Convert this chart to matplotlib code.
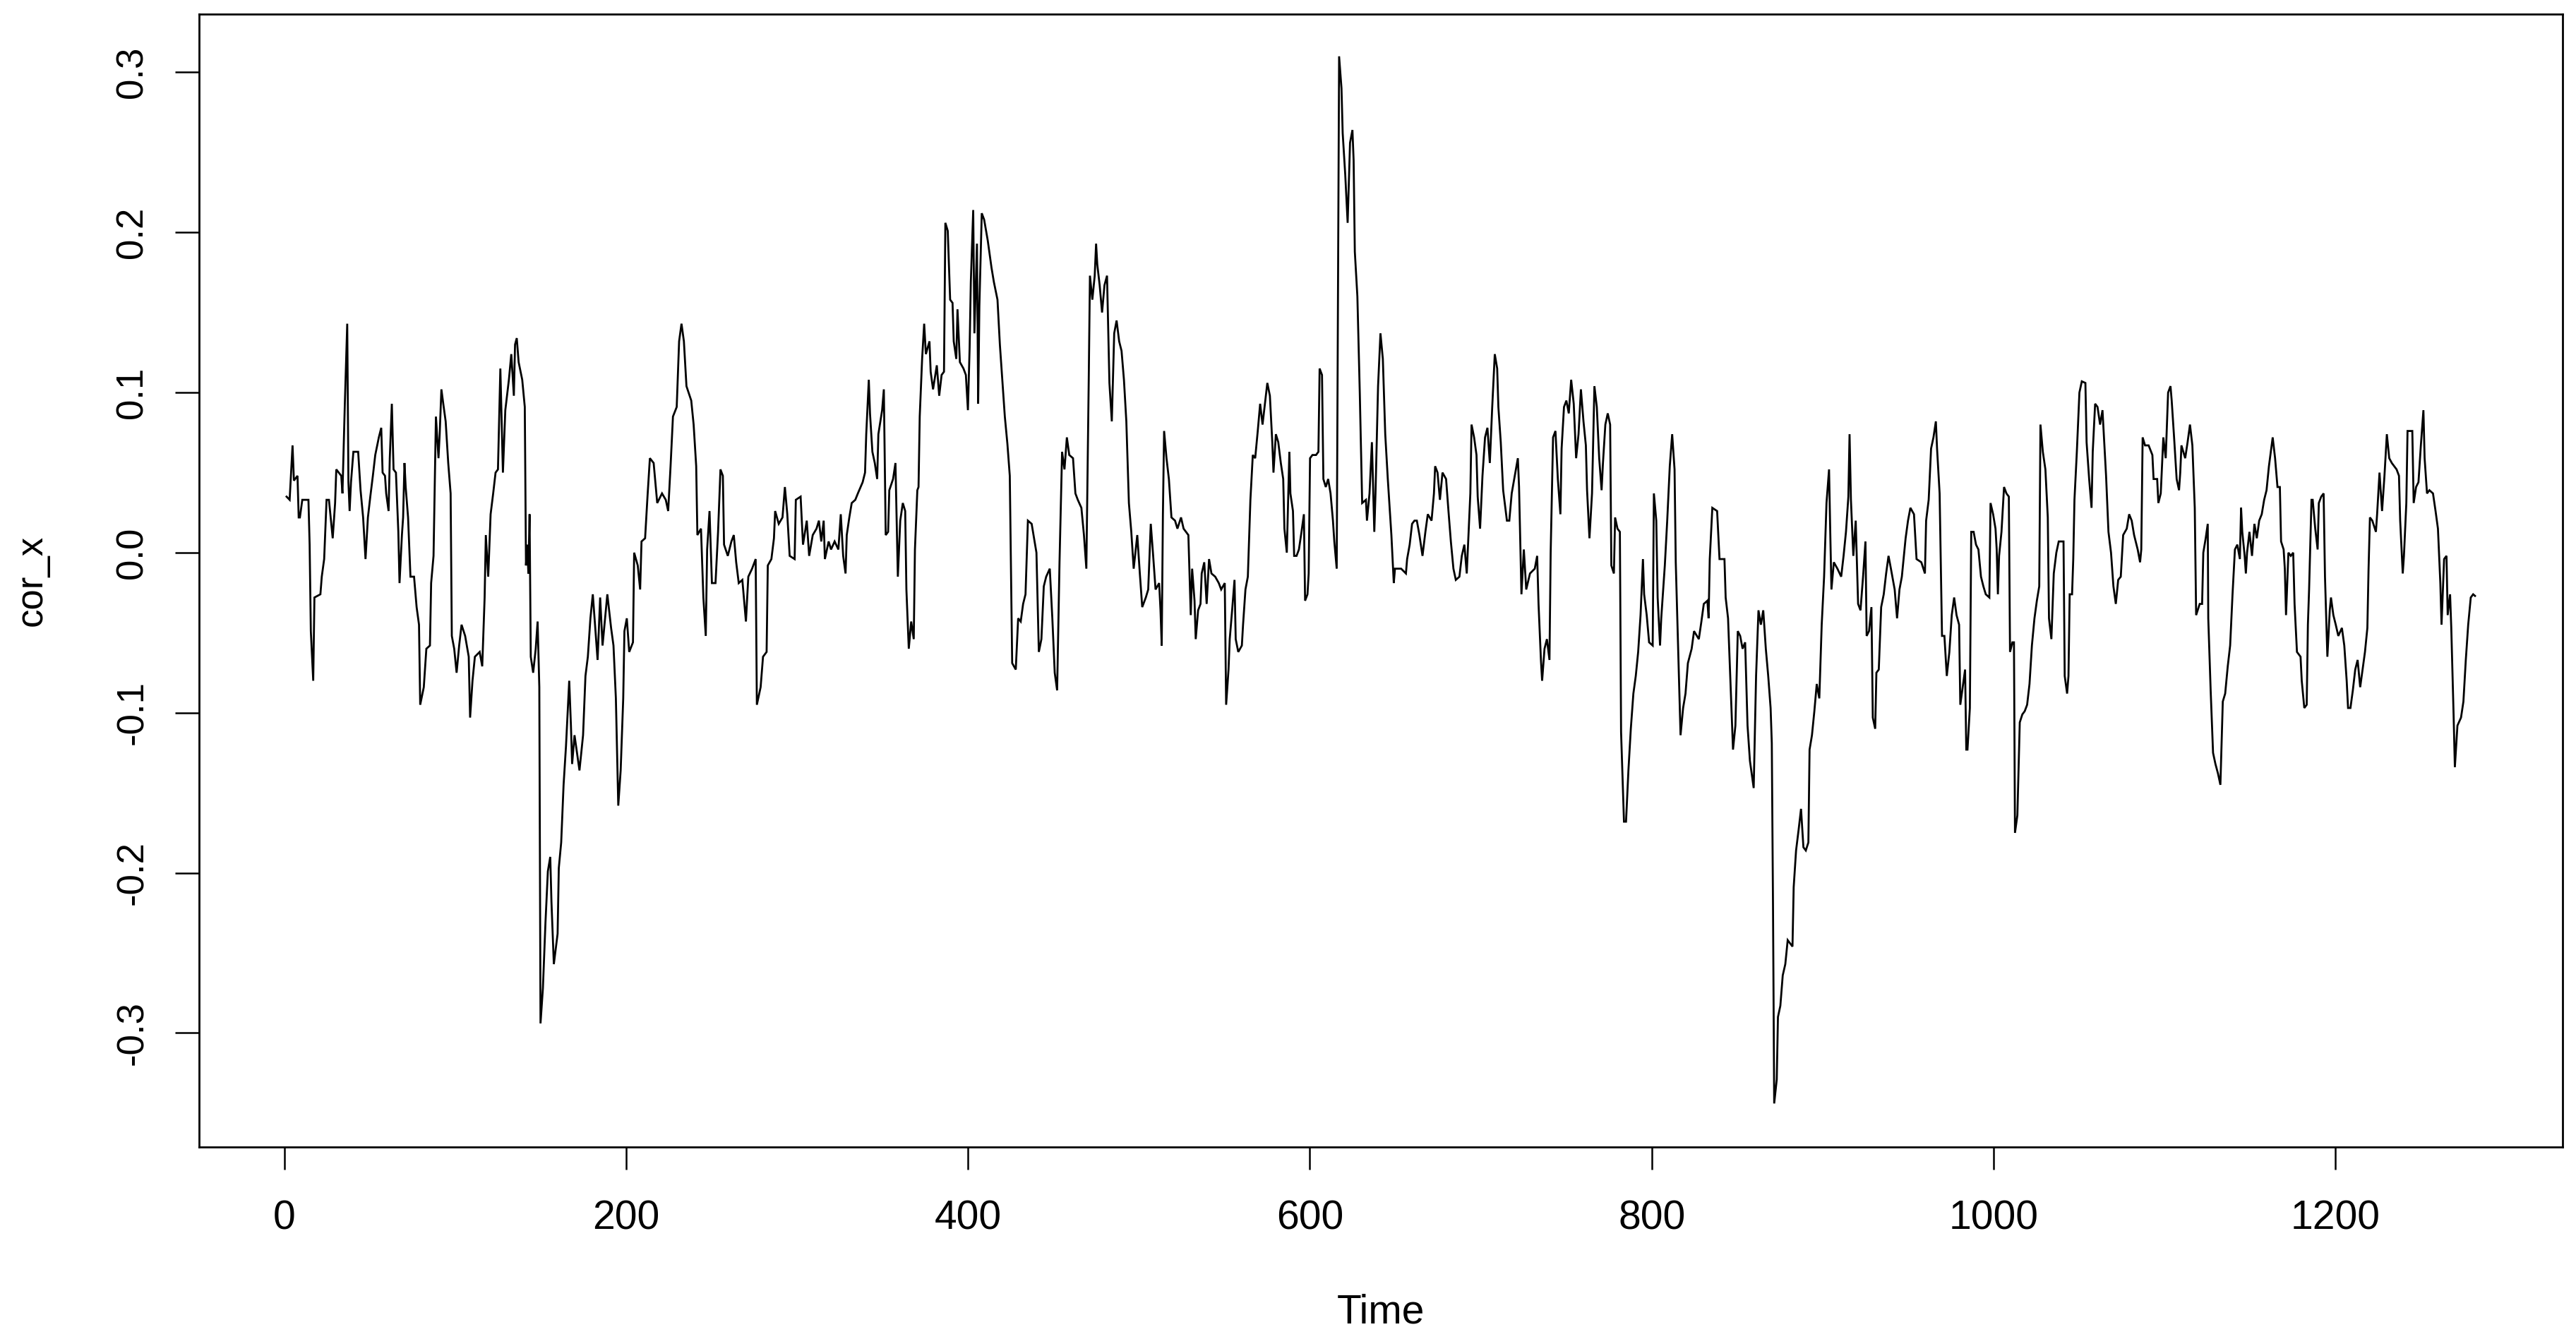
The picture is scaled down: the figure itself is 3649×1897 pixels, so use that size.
import matplotlib
matplotlib.use("Agg")
import matplotlib.pyplot as plt
from matplotlib import font_manager
import numpy as np

# ---- data (Time, cor_x) ----
time = [
 1.2, 3.0, 4.7, 5.5, 7.6, 8.3, 9.0, 10.4, 14.0, 14.7, 15.4, 16.8, 17.5, 21.0, 21.8, 23.2, 24.6, 26.0, 28.2, 29.6,
 30.3, 33.2, 33.9, 35.3, 36.7, 37.4, 38.1, 38.9, 40.3, 43.1, 44.5, 46.0, 47.4, 48.8, 50.2, 51.7, 53.1, 55.2, 56.6, 57.4,
 58.8, 59.5, 60.9, 61.6, 62.8, 63.8, 65.2, 66.6, 67.3, 68.7, 69.4, 70.2, 70.9, 72.3, 73.7, 75.8, 77.3, 78.7, 79.4, 81.5,
 83.0, 85.1, 85.8, 87.2, 88.6, 90.1, 90.8, 91.8, 92.9, 94.3, 95.8, 97.2, 97.9, 99.3, 100.7, 102.2, 103.6, 105.7, 107.8, 108.6,
 110.0, 111.4, 114.2, 115.7, 117.1, 117.8, 119.2, 120.6, 122.1, 123.5, 124.9, 126.3, 127.8, 129.2, 131.3, 132.7, 134.2, 134.9, 135.9, 137.0,
 139.1, 140.6, 141.3, 142.0, 142.7, 143.4, 144.1, 145.5, 147.0, 148.1, 149.1, 149.8, 151.2, 152.7, 154.1, 155.5, 156.2, 157.6, 159.8, 160.5,
 161.9, 163.3, 164.7, 166.6, 167.6, 168.3, 169.7, 172.6, 174.7, 176.1, 177.5, 179.0, 180.4, 183.2, 184.7, 186.1, 188.9, 191.1, 192.5, 193.9,
 195.3, 196.7, 198.2, 198.9, 200.3, 201.7, 203.9, 204.6,
 206.7, 208.1, 208.9, 211.0, 212.4, 213.8, 216.0, 218.1, 220.9, 223.1, 224.5, 225.9, 227.3, 229.5, 230.9, 232.3, 233.7, 235.2, 238.0, 239.4,
 240.9, 241.6, 243.7, 245.1, 246.5, 247.3, 248.7, 250.1, 252.2, 253.7, 255.1, 256.5, 257.2, 259.4, 261.5, 262.9, 264.3, 265.8, 267.9, 270.0,
 271.4, 273.6, 275.7, 276.4, 278.6, 280.0, 282.1, 282.8, 284.9, 286.4, 287.1, 289.2, 291.4, 292.8, 294.2, 295.6, 298.5, 299.2, 302.0, 303.4,
 305.6, 307.0, 309.1, 311.3, 312.7, 314.1, 315.5, 316.2, 318.4, 319.8, 321.9, 324.1, 325.5, 326.9, 328.3, 329.0, 330.5, 331.9, 334.0, 335.5,
 338.3, 339.7, 340.4, 341.9, 342.6, 344.0, 345.4, 346.8, 347.5, 349.7, 350.7, 351.8, 353.2, 353.9, 356.1, 357.5, 358.2, 358.9, 360.3, 361.8,
 363.2, 363.9, 365.3, 366.7, 368.2, 368.9, 370.3, 371.0, 371.7, 373.1, 374.3, 375.3, 377.4, 378.1, 379.5, 381.7, 383.1, 384.5, 385.9, 386.7,
 388.1, 389.5, 390.9, 391.6, 393.1, 393.8, 395.2, 397.3, 398.7, 399.9, 400.9, 401.6, 403.0, 403.7, 405.2, 405.9, 406.6, 408.0, 409.4, 411.5,
 413.7, 415.1, 417.2, 418.6,
 421.5, 423.0, 424.4, 425.8, 427.9, 429.3, 430.8, 432.2, 433.6, 435.0, 437.2, 438.6, 440.0, 441.4, 442.9, 444.3, 445.7, 447.8, 449.3, 450.7,
 452.1, 453.5, 455.0, 456.4, 457.8, 459.2, 461.4, 462.8, 464.2, 466.3, 467.8, 469.2, 470.6, 471.3, 472.7, 474.1, 474.9, 475.6, 477.0, 478.4,
 479.8, 481.3, 482.7, 484.1, 485.5, 486.9, 488.4, 489.8, 491.2, 492.6, 494.1, 495.5, 496.9, 499.0, 500.5, 501.9, 504.0, 505.4, 506.9, 508.3,
 509.7, 511.8, 512.6, 513.3, 514.0, 514.7, 516.1, 517.5, 519.0, 521.1, 522.5, 524.6, 526.1, 528.9, 530.3, 531.1, 532.5, 533.2, 534.6, 536.0,
 536.7, 538.2, 539.6, 541.0, 542.4, 544.6, 546.7, 548.1, 550.2, 551.0, 552.4, 553.1, 554.5, 555.9, 556.6, 558.1, 560.2, 560.9, 562.3, 563.7,
 565.2, 566.6, 568.0, 569.5, 570.9, 572.3, 573.7, 575.1, 576.6, 578.0, 578.7, 580.1, 581.5, 583.0, 584.4, 585.1, 586.5, 588.0, 588.6, 590.1,
 590.8, 592.2, 593.6, 595.1, 596.5, 597.2, 598.6, 599.3, 600.1, 601.5, 603.6, 605.0, 605.7, 607.1, 607.9, 609.3, 610.7, 612.1, 613.5, 614.3,
 615.7, 616.4, 617.1, 618.5, 619.2, 620.7, 622.1, 623.5, 624.9, 625.6, 626.3, 627.8, 629.2, 630.6, 632.8, 633.4, 634.9, 636.3, 637.7, 638.4,
 639.9, 641.3, 642.7,
 644.1, 645.6, 647.7, 649.1, 649.8, 653.4, 656.2, 656.9, 658.4, 659.8, 661.2, 662.6, 664.1, 665.9, 667.6, 669.0, 671.2, 672.6, 673.3, 674.7,
 676.1, 677.6, 679.7, 681.1, 682.5, 684.0, 685.4, 687.5, 688.9, 690.4, 691.8, 693.2, 693.9, 694.6, 696.1, 697.5, 698.2, 699.6, 701.0, 702.5,
 703.9, 705.3, 706.7, 708.2, 709.6, 710.3, 711.7, 713.1, 715.3, 716.7, 718.1, 720.2, 721.7, 722.4, 723.8, 725.2, 726.6, 728.8, 731.6, 733.0,
 733.8, 735.2, 735.9, 737.3, 738.7, 740.2, 740.9, 742.3, 743.7, 745.1, 746.6, 747.3, 748.7, 750.1, 751.5, 752.9, 754.4, 755.8, 757.2, 758.6,
 760.1, 761.5, 762.2, 763.6, 765.1, 766.5, 767.9, 769.3, 770.7, 771.5, 772.9, 774.3, 775.7, 776.4, 777.9, 778.6, 780.0, 781.4, 782.1, 783.8,
 785.0, 786.4, 787.8, 789.3, 790.7, 792.1, 793.5, 794.9, 795.6, 797.1, 798.5, 800.6, 801.3, 802.7, 803.5, 804.9, 805.6, 807.7, 809.1, 810.6,
 812.0, 813.4, 814.1, 815.5, 816.9, 818.4, 819.8, 821.2, 823.4, 824.8, 827.6, 829.1, 830.5, 832.6, 833.3, 834.0, 835.5, 838.3, 839.7, 842.6,
 843.3, 844.7, 846.1, 847.6, 849.0, 850.4, 851.8, 853.2, 854.7, 856.1, 857.5,
 859.7, 861.1, 862.5, 863.9, 865.3, 866.8, 868.2, 869.6, 870.3, 871.0, 871.7, 873.2, 873.9, 875.3, 876.7, 878.2, 879.6, 881.0, 882.4, 883.1,
 884.5, 886.0, 887.4, 888.8, 890.2, 891.7, 892.4, 893.8, 895.2, 896.6, 898.1, 899.5, 900.9, 902.3, 903.8, 904.5, 905.2, 906.6, 908.7, 910.9,
 912.3, 913.7, 915.1, 915.8, 916.6, 918.0, 919.4, 920.8, 922.2, 923.7, 925.1, 925.8, 927.2, 928.6, 929.4, 930.8, 931.5, 932.9, 934.3, 935.8,
 937.2, 938.6, 940.0, 942.2, 943.6, 945.0, 946.4, 948.6, 950.0, 951.4, 953.5, 955.0, 957.8, 959.9, 960.6, 962.1, 963.5, 964.9, 966.3, 967.0,
 968.5, 969.9, 971.3, 972.7, 974.2, 975.6, 977.0, 978.4, 979.9, 980.6, 982.0, 983.4, 984.1, 984.8, 986.2, 987.0, 988.4, 989.8, 991.2, 992.7,
 994.1, 995.5, 997.6, 998.3, 999.8, 1001.2, 1001.9, 1002.6, 1003.3, 1004.7, 1006.2, 1007.6, 1009.0, 1009.7, 1011.1, 1012.0, 1012.6, 1014.0, 1015.4, 1016.9,
 1018.3, 1019.7, 1021.1, 1022.5, 1024.0, 1025.4, 1026.8, 1027.5, 1028.9, 1030.4, 1031.8, 1032.5, 1033.9, 1035.3, 1036.8, 1038.2, 1041.0, 1041.7, 1043.1, 1043.9,
 1044.6, 1046.0, 1046.7, 1047.4, 1048.8, 1050.3, 1051.7, 1053.8, 1054.5, 1056.0, 1057.4, 1058.1, 1059.5, 1060.9, 1062.4, 1063.8,
 1065.9, 1067.3, 1068.8, 1070.2, 1071.6, 1073.0, 1074.5, 1075.9, 1078.0, 1079.4, 1080.9, 1082.3, 1084.4, 1085.8, 1086.5, 1087.3, 1088.7, 1090.8, 1093.0, 1093.7,
 1095.8, 1096.5, 1097.9, 1099.4, 1100.8, 1102.2, 1103.6, 1104.3, 1105.7, 1107.2, 1108.6, 1109.3, 1110.0, 1112.2, 1113.6, 1115.0, 1116.4, 1117.8, 1118.6, 1120.7,
 1122.1, 1122.8, 1124.2, 1125.4, 1125.7, 1127.1, 1128.5, 1129.9, 1131.4, 1132.8, 1134.2, 1135.6, 1137.1, 1138.5, 1139.9, 1141.3, 1142.7, 1144.2, 1144.9, 1145.6,
 1147.0, 1147.7, 1148.4, 1149.8, 1151.3, 1152.7, 1154.1, 1155.5, 1157.0, 1158.4, 1159.8, 1161.2, 1163.4, 1164.8, 1166.2, 1167.6, 1168.3, 1169.8, 1170.5, 1171.2,
 1172.6, 1174.0, 1175.4, 1176.2, 1177.6, 1179.7, 1180.4, 1181.9, 1183.3, 1184.0, 1184.7, 1186.1, 1186.8, 1188.3, 1189.7, 1190.4, 1191.8, 1193.2, 1194.0, 1195.4,
 1196.8, 1197.5, 1198.9, 1200.3, 1201.8, 1203.9, 1205.3, 1206.7, 1207.5, 1208.9, 1210.3, 1211.7, 1213.1, 1214.6, 1216.0, 1217.4, 1218.8, 1219.5, 1220.3, 1221.7,
 1223.8, 1224.5, 1225.9, 1227.4, 1228.8, 1230.2, 1231.6, 1233.1, 1234.5, 1235.9, 1237.3, 1238.0, 1239.5, 1240.2, 1241.6, 1242.3, 1243.7, 1245.1, 1245.9, 1247.3,
 1248.7, 1250.1, 1251.6, 1252.3, 1253.7, 1255.1, 1257.2, 1258.7, 1260.1, 1261.5, 1262.2, 1263.7, 1265.1, 1265.8, 1267.2, 1267.9, 1269.3, 1270.0, 1271.5, 1273.6,
 1275.0, 1276.4, 1277.8, 1279.3, 1280.7, 1281.8,
]

cor_x = [
 0.035, 0.033, 0.067, 0.045, 0.048, 0.022, 0.022, 0.033, 0.033, 0.005, -0.049, -0.080, -0.028, -0.026, -0.015, -0.004, 0.033, 0.033, 0.009, 0.031,
 0.052, 0.048, 0.037, 0.093, 0.143, 0.044, 0.026, 0.044, 0.063, 0.063, 0.039, 0.022, -0.004, 0.022, 0.035, 0.048, 0.061, 0.072, 0.078, 0.050,
 0.048, 0.037, 0.026, 0.059, 0.093, 0.052, 0.050, 0.013, -0.019, 0.011, 0.022, 0.056, 0.041, 0.022, -0.015, -0.015, -0.034, -0.045, -0.095, -0.084,
 -0.060, -0.058, -0.019, -0.002, 0.085, 0.059, 0.074, 0.102, 0.093, 0.082, 0.056, 0.037, -0.052, -0.060, -0.075, -0.058, -0.045, -0.052, -0.065, -0.103,
 -0.080, -0.065, -0.062, -0.071, -0.028, 0.011, -0.015, 0.024, 0.037, 0.050, 0.052, 0.115, 0.050, 0.089, 0.108, 0.124, 0.098, 0.130, 0.134, 0.119,
 0.108, 0.091, -0.008, 0.005, -0.013, 0.024, -0.065, -0.075, -0.060, -0.043, -0.084, -0.294, -0.272, -0.231, -0.199, -0.190, -0.218, -0.257, -0.238, -0.197,
 -0.181, -0.145, -0.121, -0.080, -0.108, -0.132, -0.114, -0.136, -0.114, -0.077, -0.065, -0.041, -0.026, -0.067, -0.028, -0.058, -0.026, -0.047, -0.058, -0.091,
 -0.158, -0.136, -0.091, -0.049, -0.041, -0.062, -0.056, 0.000,
 -0.008, -0.023, 0.007, 0.009, 0.035, 0.059, 0.056, 0.031, 0.037, 0.033, 0.026, 0.054, 0.085, 0.091, 0.132, 0.143, 0.132, 0.104, 0.095, 0.080,
 0.054, 0.011, 0.015, -0.028, -0.052, 0.002, 0.026, -0.019, -0.019, 0.013, 0.052, 0.048, 0.005, -0.002, 0.007, 0.011, -0.006, -0.019, -0.017, -0.043,
 -0.015, -0.010, -0.004, -0.095, -0.084, -0.065, -0.062, -0.008, -0.004, 0.009, 0.026, 0.018, 0.022, 0.041, 0.024, -0.002, -0.004, 0.033, 0.035, 0.005,
 0.020, -0.002, 0.011, 0.015, 0.020, 0.007, 0.020, -0.004, 0.007, 0.002, 0.007, 0.002, 0.024, -0.002, -0.013, 0.011, 0.022, 0.031, 0.033, 0.037,
 0.044, 0.050, 0.074, 0.108, 0.087, 0.063, 0.056, 0.046, 0.074, 0.089, 0.102, 0.011, 0.013, 0.039, 0.046, 0.056, 0.020, -0.015, 0.020, 0.031,
 0.026, -0.023, -0.060, -0.043, -0.054, 0.002, 0.039, 0.041, 0.085, 0.121, 0.143, 0.124, 0.132, 0.113, 0.102, 0.117, 0.098, 0.111, 0.113, 0.206,
 0.201, 0.158, 0.156, 0.132, 0.121, 0.152, 0.119, 0.115, 0.111, 0.089, 0.128, 0.169, 0.214, 0.137, 0.193, 0.093, 0.154, 0.212, 0.208, 0.195,
 0.178, 0.169, 0.158, 0.130,
 0.085, 0.068, 0.048, -0.069, -0.073, -0.041, -0.043, -0.032, -0.026, 0.020, 0.018, 0.009, 0.000, -0.062, -0.054, -0.021, -0.015, -0.010, -0.041, -0.075,
 -0.086, -0.006, 0.063, 0.052, 0.072, 0.061, 0.059, 0.037, 0.033, 0.028, 0.011, -0.010, 0.108, 0.173, 0.158, 0.173, 0.193, 0.180, 0.167, 0.150,
 0.167, 0.173, 0.106, 0.082, 0.137, 0.145, 0.132, 0.126, 0.108, 0.082, 0.031, 0.013, -0.010, 0.011, -0.013, -0.034, -0.028, -0.023, 0.018, -0.002,
 -0.023, -0.019, -0.036, -0.058, 0.024, 0.076, 0.059, 0.046, 0.022, 0.020, 0.015, 0.022, 0.015, 0.011, -0.039, -0.010, -0.030, -0.054, -0.036, -0.032,
 -0.013, -0.006, -0.032, -0.004, -0.013, -0.015, -0.019, -0.023, -0.019, -0.095, -0.073, -0.054, -0.036, -0.017, -0.054, -0.062, -0.058, -0.045, -0.023, -0.015,
 0.033, 0.061, 0.059, 0.076, 0.093, 0.080, 0.093, 0.106, 0.098, 0.069, 0.050, 0.074, 0.069, 0.056, 0.046, 0.015, 0.000, 0.063, 0.037, 0.026,
 -0.002, -0.002, 0.002, 0.013, 0.024, -0.030, -0.026, -0.013, 0.059, 0.061, 0.061, 0.063, 0.115, 0.111, 0.046, 0.041, 0.046, 0.037, 0.020, 0.007,
 -0.010, 0.147, 0.310, 0.290, 0.262, 0.236, 0.206, 0.256, 0.264, 0.245, 0.188, 0.160, 0.100, 0.031, 0.033, 0.020, 0.037, 0.069, 0.013, 0.037,
 0.104, 0.137, 0.121,
 0.074, 0.046, 0.011, -0.019, -0.010, -0.010, -0.013, -0.004, 0.005, 0.018, 0.020, 0.020, 0.011, -0.002, 0.013, 0.024, 0.020, 0.037, 0.054, 0.050,
 0.033, 0.050, 0.046, 0.026, 0.007, -0.010, -0.017, -0.015, -0.002, 0.005, -0.013, 0.020, 0.037, 0.080, 0.072, 0.061, 0.035, 0.015, 0.048, 0.072,
 0.078, 0.056, 0.091, 0.124, 0.115, 0.091, 0.069, 0.039, 0.020, 0.020, 0.037, 0.050, 0.059, 0.041, -0.026, 0.002, -0.023, -0.013, -0.010, -0.002,
 -0.032, -0.067, -0.080, -0.060, -0.054, -0.067, 0.000, 0.072, 0.076, 0.046, 0.024, 0.065, 0.091, 0.095, 0.087, 0.108, 0.093, 0.059, 0.074, 0.102,
 0.082, 0.067, 0.039, 0.009, 0.037, 0.104, 0.091, 0.059, 0.039, 0.056, 0.080, 0.087, 0.080, -0.008, -0.013, 0.022, 0.015, 0.013, -0.112, -0.168,
 -0.168, -0.136, -0.110, -0.088, -0.077, -0.062, -0.039, -0.004, -0.026, -0.039, -0.056, -0.058, 0.037, 0.020, -0.028, -0.058, -0.041, -0.008, 0.020, 0.054,
 0.074, 0.052, -0.006, -0.060, -0.114, -0.097, -0.088, -0.069, -0.060, -0.049, -0.054, -0.043, -0.032, -0.030, -0.041, -0.004, 0.028, 0.026, -0.004, -0.004,
 -0.028, -0.041, -0.080, -0.123, -0.108, -0.049, -0.052, -0.060, -0.056, -0.108, -0.130,
 -0.147, -0.077, -0.036, -0.045, -0.036, -0.060, -0.077, -0.097, -0.119, -0.220, -0.344, -0.329, -0.290, -0.283, -0.264, -0.257, -0.242, -0.244, -0.246, -0.209,
 -0.186, -0.173, -0.160, -0.184, -0.186, -0.181, -0.123, -0.114, -0.099, -0.082, -0.091, -0.045, -0.015, 0.031, 0.052, 0.013, -0.023, -0.006, -0.010, -0.015,
 -0.002, 0.013, 0.035, 0.074, 0.033, -0.002, 0.020, -0.032, -0.036, -0.015, 0.007, -0.052, -0.049, -0.034, -0.103, -0.110, -0.075, -0.073, -0.034, -0.026,
 -0.013, -0.002, -0.010, -0.023, -0.041, -0.023, -0.015, 0.009, 0.020, 0.028, 0.024, -0.004, -0.006, -0.013, 0.020, 0.033, 0.065, 0.072, 0.082, 0.065,
 0.037, -0.052, -0.052, -0.077, -0.062, -0.039, -0.028, -0.039, -0.045, -0.095, -0.084, -0.073, -0.123, -0.123, -0.097, 0.013, 0.013, 0.005, 0.002, -0.015,
 -0.021, -0.026, -0.028, 0.031, 0.024, 0.015, 0.002, -0.026, -0.002, 0.013, 0.041, 0.037, 0.035, -0.062, -0.056, -0.056, -0.175, -0.164, -0.106, -0.101,
 -0.099, -0.095, -0.082, -0.058, -0.041, -0.030, -0.021, 0.080, 0.063, 0.052, 0.022, -0.041, -0.054, -0.013, 0.000, 0.007, 0.007, -0.077, -0.088, -0.077,
 -0.026, -0.026, -0.004, 0.033, 0.063, 0.100, 0.107, 0.106, 0.069, 0.046, 0.028, 0.063, 0.093, 0.091, 0.080, 0.089,
 0.048, 0.013, 0.000, -0.021, -0.032, -0.017, -0.015, 0.011, 0.015, 0.024, 0.020, 0.011, 0.002, -0.006, 0.002, 0.072, 0.067, 0.067, 0.061, 0.046,
 0.046, 0.031, 0.037, 0.072, 0.059, 0.100, 0.104, 0.095, 0.072, 0.046, 0.039, 0.050, 0.067, 0.059, 0.069, 0.080, 0.067, 0.028, -0.039, -0.032,
 -0.032, 0.000, 0.009, 0.018, -0.041, -0.086, -0.125, -0.132, -0.138, -0.145, -0.093, -0.088, -0.071, -0.058, -0.026, 0.002, 0.005, -0.004, 0.028, 0.013,
 -0.002, -0.013, 0.000, 0.013, -0.002, 0.018, 0.009, 0.020, 0.024, 0.033, 0.039, 0.054, 0.072, 0.059, 0.041, 0.041, 0.007, 0.002, -0.010, -0.039,
 0.000, -0.002, 0.000, -0.032, -0.062, -0.065, -0.080, -0.097, -0.095, -0.045, -0.023, 0.033, 0.033, 0.015, 0.002, 0.031, 0.035, 0.037, -0.015, -0.065,
 -0.036, -0.028, -0.039, -0.045, -0.052, -0.047, -0.058, -0.080, -0.097, -0.097, -0.086, -0.073, -0.067, -0.084, -0.073, -0.062, -0.047, -0.010, 0.022, 0.020,
 0.013, 0.024, 0.050, 0.026, 0.048, 0.074, 0.059, 0.056, 0.054, 0.052, 0.048, 0.020, -0.013, -0.002, 0.031, 0.076, 0.076, 0.076, 0.031, 0.041,
 0.044, 0.067, 0.089, 0.059, 0.037, 0.039, 0.037, 0.026, 0.015, -0.019, -0.045, -0.004, -0.002, -0.039, -0.026, -0.047, -0.103, -0.134, -0.108, -0.103,
 -0.093, -0.067, -0.045, -0.028, -0.026, -0.027,
]

x_ticks = [0, 200, 400, 600, 800, 1000, 1200]
y_ticks = [-0.3, -0.2, -0.1, 0.0, 0.1, 0.2, 0.3]
y_tick_labels = ["-0.3", "-0.2", "-0.1", "0.0", "0.1", "0.2", "0.3"]
x_label = "Time"
y_label = "cor_x"

# ---- fonts ----
def has_font(name):
    try:
        font_manager.findfont(font_manager.FontProperties(family=name), fallback_to_default=False)
        return True
    except Exception:
        return False

h_font = "Liberation Sans" if has_font("Liberation Sans") else "DejaVu Sans"
if has_font("Liberation Sans Narrow"):
    v_font, v_size = "Liberation Sans Narrow", 44
else:
    v_font, v_size = h_font, 38
h_size = 41

plt.rcParams["axes.unicode_minus"] = False

W, H = 3649, 1897
fig = plt.figure(figsize=(W / 100, H / 100), dpi=100)
left_px, right_px, top_px, bottom_px = 281.5, 3630.4, 19.9, 1625.0
ax = fig.add_axes([left_px / W, 1 - bottom_px / H,
                   (right_px - left_px) / W, (bottom_px - top_px) / H])

ax.plot(time, cor_x, color="black", linewidth=2.0, solid_joinstyle="miter")

ax.set_xlim(-50.2, 1333.2)
ax.set_ylim(-0.3712, 0.3364)

for s in ax.spines.values():
    s.set_linewidth(2.0)
    s.set_color("black")

ax.set_xticks(x_ticks)
ax.set_xticklabels([str(v) for v in x_ticks], fontfamily=h_font, fontsize=h_size)
ax.set_yticks(y_ticks)
ax.set_yticklabels(y_tick_labels, fontfamily=v_font, fontsize=v_size,
                   rotation=90, va="center")
ax.tick_params(axis="x", direction="out", length=23, width=1.8, pad=31, colors="black")
ax.tick_params(axis="y", direction="out", length=24.5, width=1.8, pad=25, colors="black")

ax.set_xlabel(x_label, fontfamily=h_font, fontsize=h_size)
ax.set_ylabel(y_label, fontfamily=v_font, fontsize=v_size)
ax.xaxis.set_label_coords(0.5, -0.129)
ax.yaxis.set_label_coords(-0.0632, 0.5)

fig.savefig("out.png", dpi=100, facecolor="white")
